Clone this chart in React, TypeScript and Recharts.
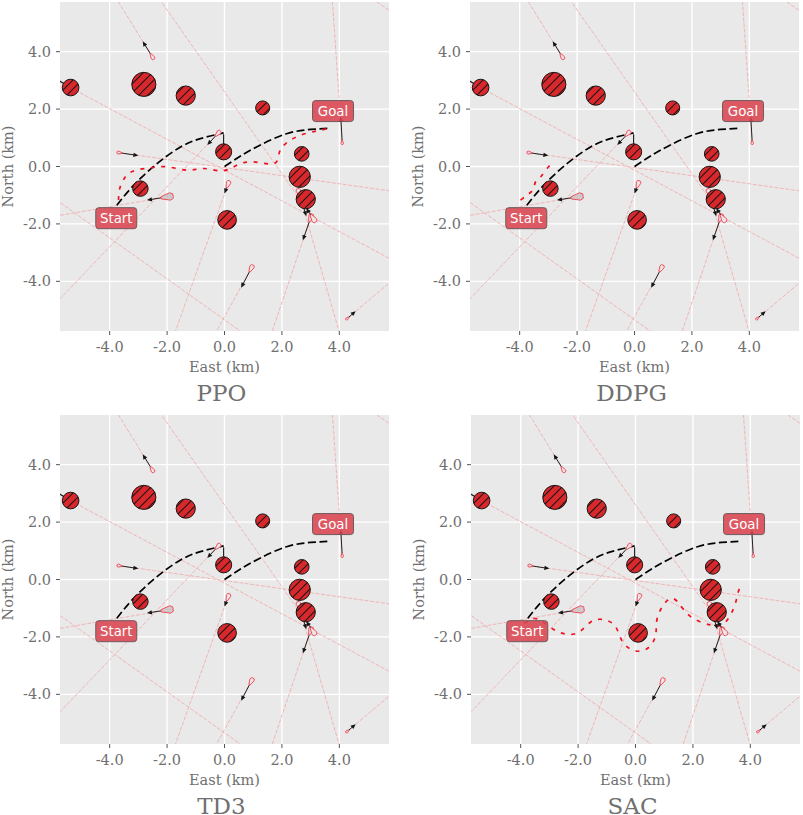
import React from "react";
import { ComposedChart, XAxis, YAxis, CartesianGrid, Line, Scatter, Label } from "recharts";

const axisTicks = [-4, -2, 0, 2, 4];
const axisLimit = 5.73;
const kmPx = 28.7;

const obstacles = [
  { x: -5.36, y: 2.75, r: 0.29 },
  { x: -2.81, y: 2.86, r: 0.42 },
  { x: -1.35, y: 2.47, r: 0.335 },
  { x: 1.33, y: 2.04, r: 0.245 },
  { x: -0.03, y: 0.51, r: 0.28 },
  { x: 2.69, y: 0.44, r: 0.255 },
  { x: 2.62, y: -0.36, r: 0.37 },
  { x: 2.83, y: -1.14, r: 0.335 },
  { x: -2.93, y: -0.77, r: 0.27 },
  { x: 0.09, y: -1.86, r: 0.325 },
];

// ship position, velocity-arrow tip, end of its predicted course, hull length (km)
const ships = [
  { x: -2.52, y: 3.83, tx: -2.85, ty: 4.36, ex: -3.7, ey: 5.74, len: 0.22 },
  { x: 4.1, y: 0.84, tx: 4.05, ty: 1.73, ex: 3.76, ey: 5.74, len: 0.14 },
  { x: -3.66, y: 0.48, tx: -3.0, ty: 0.38, ex: 5.76, ey: -0.85, len: 0.17 },
  { x: -0.23, y: 1.15, tx: -0.6, ty: 0.75, ex: -5.72, ey: -4.6, len: 0.24 },
  { x: -2.0, y: -1.06, tx: -2.7, ty: -1.17, ex: -5.72, ey: -1.7, len: 0.42 },
  { x: 0.12, y: -0.62, tx: 0.0, ty: -0.94, ex: -1.71, ey: -5.74, len: 0.26 },
  { x: 0.93, y: -3.55, tx: 0.58, ty: -4.22, ex: -0.28, ey: -5.74, len: 0.26 },
  { x: 4.28, y: -5.29, tx: 4.57, ty: -5.04, ex: 5.76, ey: -4.04, len: 0.13 },
  { x: 3.0, y: -1.79, tx: 2.73, ty: -2.57, ex: 1.66, ey: -5.74, len: 0.28 },
  { x: 2.59, y: -0.9, tx: 2.85, ty: -1.73, ex: 3.99, ey: -5.74, len: 0.26 },
  { x: 3.09, y: -1.81, tx: 2.85, ty: -1.45, ex: -2.2, ey: 5.74, len: 0.3 },
];

const farLines = [
  [{ x: -5.37, y: 2.75 }, { x: 5.76, y: -3.21 }],
  [{ x: 5.3, y: 5.74 }, { x: 5.76, y: 5.42 }],
  [{ x: -5.72, y: -1.26 }, { x: 0.56, y: -5.74 }],
];

const stems = [
  [{ x: -5.36, y: 2.75 }, { x: -5.78, y: 3.0 }],
  [{ x: -0.03, y: 0.51 }, { x: -0.03, y: 1.12 }],
];

const refLegA = [
  { x: -3.75, y: -1.35 }, { x: -3.16, y: -0.65 }, { x: -2.35, y: 0.1 },
  { x: -1.53, y: 0.68 }, { x: -0.84, y: 0.97 }, { x: -0.03, y: 1.17 },
];
const refLegB = [
  { x: 0.0, y: 0.0 }, { x: 0.65, y: 0.42 }, { x: 1.31, y: 0.78 },
  { x: 2.19, y: 1.15 }, { x: 3.0, y: 1.29 }, { x: 3.7, y: 1.33 },
];

const trackPPO = [
  { x: -3.69, y: -1.17 }, { x: -3.65, y: -0.77 }, { x: -3.45, y: -0.36 }, { x: -3.1, y: -0.13 },
  { x: -2.58, y: -0.05 }, { x: -2.0, y: -0.01 }, { x: -1.3, y: -0.13 }, { x: -0.72, y: -0.07 },
  { x: -0.08, y: -0.15 }, { x: 0.44, y: 0.05 }, { x: 1.02, y: 0.16 }, { x: 1.72, y: 0.1 },
  { x: 1.9, y: 0.45 }, { x: 2.13, y: 0.8 }, { x: 2.65, y: 1.09 }, { x: 3.23, y: 1.24 }, { x: 3.64, y: 1.33 },
];
const trackDDPG = [
  { x: -3.97, y: -1.17 }, { x: -3.69, y: -0.96 }, { x: -3.52, y: -0.78 }, { x: -3.45, y: -0.54 },
  { x: -3.28, y: -0.37 }, { x: -3.03, y: -0.05 }, { x: -2.86, y: 0.12 },
];
const trackTD3: { x: number; y: number }[] = [];
const trackSAC = [
  { x: -3.88, y: -1.53 }, { x: -3.48, y: -1.36 }, { x: -3.07, y: -1.59 }, { x: -2.6, y: -1.86 },
  { x: -2.02, y: -1.86 }, { x: -1.56, y: -1.48 }, { x: -1.09, y: -1.4 }, { x: -0.69, y: -1.65 },
  { x: -0.45, y: -2.17 }, { x: 0.01, y: -2.49 }, { x: 0.48, y: -2.35 }, { x: 0.71, y: -1.88 },
  { x: 0.77, y: -1.3 }, { x: 1.12, y: -0.72 }, { x: 1.47, y: -0.78 }, { x: 1.93, y: -1.3 },
  { x: 2.63, y: -1.59 }, { x: 3.09, y: -1.53 }, { x: 3.44, y: -0.95 }, { x: 3.58, y: -0.43 }, { x: 3.73, y: -0.14 },
];

const markers = [
  { x: -3.77, y: -1.8, text: "Start" },
  { x: 3.78, y: 1.93, text: "Goal" },
];

const panels = [
  { name: "PPO", track: trackPPO, cx: 224, cy: 166.5 },
  { name: "DDPG", track: trackDDPG, cx: 634, cy: 166.5 },
  { name: "TD3", track: trackTD3, cx: 224, cy: 579 },
  { name: "SAC", track: trackSAC, cx: 634.5, cy: 579.3 },
];

const TEXT = "#707070";
const FONT = "'DejaVu Serif'";

function ObstacleShape(props: any) {
  const { cx, cy, payload, hatchId } = props;
  const r = payload.r * kmPx;
  return (
    <g>
      <circle cx={cx} cy={cy} r={r} fill="#d8282c" />
      <circle cx={cx} cy={cy} r={r} fill={`url(#${hatchId})`} stroke="#151515" strokeWidth={1} />
    </g>
  );
}

function ShipShape(props: any) {
  const { cx, cy, payload } = props;
  const dx = (payload.tx - payload.x) * kmPx;
  const dy = -(payload.ty - payload.y) * kmPx;
  const n = Math.hypot(dx, dy) || 1;
  const ux = dx / n;
  const uy = dy / n;
  const L = payload.len * kmPx;
  const W = L * 0.62;
  const local = [
    [L / 2, W * 0.15], [-L / 4, W / 2], [-L / 2, W * 0.3],
    [-L / 2, -W * 0.3], [-L / 4, -W / 2], [L / 2, -W * 0.15],
  ];
  const hull = local.map(([a, b]) => `${cx + a * ux - b * uy},${cy + a * uy + b * ux}`).join(" ");
  const tipX = cx + dx;
  const tipY = cy + dy;
  const hl = 5;
  const hw = 2.2;
  const head = [
    [tipX, tipY],
    [tipX - hl * ux - hw * uy, tipY - hl * uy + hw * ux],
    [tipX - hl * ux + hw * uy, tipY - hl * uy - hw * ux],
  ].map((p) => p.join(",")).join(" ");
  return (
    <g>
      <line x1={cx} y1={cy} x2={tipX - 2 * ux} y2={tipY - 2 * uy} stroke="#262020" strokeWidth={1} />
      <polygon points={head} fill="#151515" />
      <polygon points={hull} fill={payload.len > 0.4 ? "#cfcaca" : "#ebe6e6"} stroke="#f2505f" strokeWidth={1} />
    </g>
  );
}

function MarkerShape(props: any) {
  const { cx, cy, payload } = props;
  return (
    <g>
      <rect x={cx - 20.5} y={cy - 10.5} width={41} height={21} rx={3} fill="#da4450" fillOpacity={0.88} stroke="#6e5a5c" strokeWidth={1} />
      <text x={cx} y={cy + 4.8} textAnchor="middle" fontFamily="'DejaVu Sans'" fontSize={13.3} fill="#ffffff">{payload.text}</text>
    </g>
  );
}

function Panel({ name, track, cx, cy }: { name: string; track: { x: number; y: number }[]; cx: number; cy: number }) {
  const hatchId = `hatch-${name}`;
  const tickStyle = { fontFamily: FONT, fontSize: 14.5, fill: TEXT };
  return (
    <div style={{ position: "absolute", left: cx - 224, top: cy - 166.5, width: 400, height: 405 }}>
      <ComposedChart width={400} height={405} margin={{ top: 2, right: 11, bottom: 0, left: 0 }}>
        <defs>
          <pattern id={hatchId} patternUnits="userSpaceOnUse" width={9} height={9}>
            <path d="M-1,1 L1,-1 M0,9 L9,0 M8,10 L10,8" stroke="#1a1414" strokeWidth={1.1} />
          </pattern>
        </defs>
        <CartesianGrid fill="#e9e9e9" stroke="#ffffff" strokeWidth={1.4} syncWithTicks />
        <XAxis
          dataKey="x"
          type="number"
          domain={[-axisLimit, axisLimit]}
          ticks={axisTicks}
          allowDataOverflow
          height={74}
          axisLine={false}
          tickSize={4}
          tickMargin={7}
          tickLine={{ stroke: "#555555" }}
          tick={tickStyle}
          tickFormatter={(v: number) => v.toFixed(1)}
          interval={0}
        >
          <Label value="East (km)" position="insideTop" offset={31} style={{ fontFamily: FONT, fontSize: 14.5, fill: TEXT }} />
          <Label value={name} position="insideTop" offset={54} dx={-3} style={{ fontFamily: FONT, fontSize: 23, fill: TEXT }} />
        </XAxis>
        <YAxis
          dataKey="y"
          type="number"
          domain={[-axisLimit, axisLimit]}
          ticks={axisTicks}
          allowDataOverflow
          width={60}
          axisLine={false}
          tickSize={4}
          tickMargin={5}
          tickLine={{ stroke: "#555555" }}
          tick={tickStyle}
          tickFormatter={(v: number) => v.toFixed(1)}
          interval={0}
        >
          <Label value="North (km)" angle={-90} position="insideLeft" offset={8} style={{ fontFamily: FONT, fontSize: 14.5, fill: TEXT, textAnchor: "middle" }} />
        </YAxis>

        {ships.map((s, i) => (
          <Line
            key={`course-${i}`}
            data={[{ x: s.x, y: s.y }, { x: s.ex, y: s.ey }]}
            dataKey="y"
            stroke="#f2b4b4"
            strokeWidth={1}
            strokeDasharray="4 1.5"
            dot={false}
            activeDot={false}
            isAnimationActive={false}
            legendType="none"
          />
        ))}
        {farLines.map((d, i) => (
          <Line key={`far-${i}`} data={d} dataKey="y" stroke="#f2b4b4" strokeWidth={1} strokeDasharray="4 1.5" dot={false} activeDot={false} isAnimationActive={false} legendType="none" />
        ))}
        {stems.map((d, i) => (
          <Line key={`stem-${i}`} data={d} dataKey="y" stroke="#1c1c1c" strokeWidth={1.2} dot={false} activeDot={false} isAnimationActive={false} legendType="none" />
        ))}
        <Line data={refLegA} dataKey="y" type="natural" stroke="#000000" strokeWidth={1.7} strokeDasharray="8 3.5" dot={false} activeDot={false} isAnimationActive={false} legendType="none" />
        <Line data={refLegB} dataKey="y" type="natural" stroke="#000000" strokeWidth={1.7} strokeDasharray="8 3.5" dot={false} activeDot={false} isAnimationActive={false} legendType="none" />
        {track.length > 0 && (
          <Line data={track} dataKey="y" type="natural" stroke="#f01020" strokeWidth={1.7} strokeDasharray="4 6.5" dot={false} activeDot={false} isAnimationActive={false} legendType="none" />
        )}
        <Scatter data={ships} dataKey="y" shape={(p: any) => <ShipShape {...p} />} isAnimationActive={false} legendType="none" />
        <Scatter data={obstacles} dataKey="y" shape={(p: any) => <ObstacleShape {...p} hatchId={hatchId} />} isAnimationActive={false} legendType="none" />
        <Scatter data={markers} dataKey="y" shape={(p: any) => <MarkerShape {...p} />} isAnimationActive={false} legendType="none" />
      </ComposedChart>
    </div>
  );
}

export default function App() {
  return (
    <div style={{ position: "absolute", left: 0, top: 0, width: 803, height: 815, overflow: "hidden", background: "#ffffff" }}>
      {panels.map((p) => (
        <Panel key={p.name} {...p} />
      ))}
    </div>
  );
}
